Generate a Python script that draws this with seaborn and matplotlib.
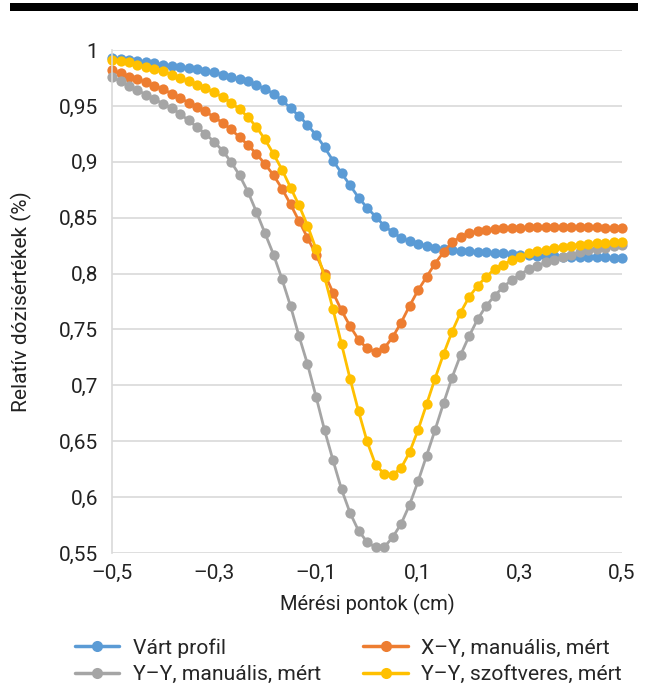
import matplotlib
matplotlib.use("Agg")
import matplotlib.pyplot as plt
import numpy as np
import pandas as pd
import seaborn as sns
from matplotlib.patches import Rectangle
from matplotlib.ticker import FixedLocator, FuncFormatter

# measurement positions (cm), 61 points across the field
positions = np.round(np.linspace(-0.5, 0.5, 61), 4)

series_names = [
    "Várt profil",
    "X–Y, manuális, mért",
    "Y–Y, manuális, mért",
    "Y–Y, szoftveres, mért",
]
series_colors = ["#5B9BD5", "#ED7D31", "#A5A5A5", "#FFC000"]

expected = [
    0.993, 0.992, 0.991, 0.990, 0.989, 0.988, 0.987, 0.986, 0.985, 0.984,
    0.983, 0.981, 0.980, 0.978, 0.976, 0.974, 0.972, 0.969, 0.965, 0.961,
    0.955, 0.948, 0.941, 0.933, 0.924, 0.913, 0.901, 0.890, 0.879, 0.868,
    0.859, 0.851, 0.843, 0.837, 0.832, 0.829, 0.8265, 0.825, 0.823, 0.822,
    0.8212, 0.8205, 0.820, 0.8195, 0.819, 0.8185, 0.818, 0.8175, 0.817, 0.8165,
    0.816, 0.8158, 0.8155, 0.8152, 0.815, 0.8148, 0.8146, 0.8145, 0.8144, 0.8143,
    0.8142,
]
xy_manual = [
    0.982, 0.979, 0.976, 0.974, 0.971, 0.968, 0.965, 0.961, 0.957, 0.953,
    0.949, 0.945, 0.940, 0.935, 0.929, 0.922, 0.915, 0.907, 0.898, 0.888,
    0.876, 0.862, 0.847, 0.832, 0.817, 0.800, 0.783, 0.767, 0.753, 0.741,
    0.733, 0.730, 0.733, 0.743, 0.756, 0.771, 0.785, 0.797, 0.809, 0.819,
    0.828, 0.833, 0.836, 0.838, 0.839, 0.840, 0.8405, 0.841, 0.841, 0.8415,
    0.842, 0.842, 0.842, 0.842, 0.842, 0.842, 0.842, 0.8415, 0.841, 0.841,
    0.8405,
]
yy_manual = [
    0.976, 0.972, 0.968, 0.964, 0.960, 0.956, 0.952, 0.948, 0.943, 0.937,
    0.931, 0.925, 0.918, 0.910, 0.900, 0.888, 0.873, 0.855, 0.836, 0.817,
    0.795, 0.771, 0.744, 0.719, 0.690, 0.660, 0.633, 0.607, 0.586, 0.570,
    0.560, 0.555, 0.555, 0.564, 0.576, 0.593, 0.614, 0.637, 0.660, 0.684,
    0.707, 0.727, 0.744, 0.759, 0.771, 0.780, 0.788, 0.794, 0.799, 0.804,
    0.807, 0.810, 0.8125, 0.815, 0.8165, 0.819, 0.821, 0.822, 0.823, 0.825,
    0.826,
]
yy_software = [
    0.991, 0.990, 0.989, 0.987, 0.985, 0.983, 0.981, 0.978, 0.975, 0.972,
    0.969, 0.966, 0.962, 0.958, 0.953, 0.947, 0.940, 0.931, 0.920, 0.907,
    0.893, 0.877, 0.861, 0.843, 0.822, 0.797, 0.768, 0.737, 0.706, 0.677,
    0.650, 0.629, 0.621, 0.620, 0.626, 0.640, 0.660, 0.683, 0.706, 0.728,
    0.748, 0.765, 0.779, 0.789, 0.797, 0.804, 0.808, 0.812, 0.815, 0.818,
    0.820, 0.8215, 0.823, 0.824, 0.825, 0.826, 0.8265, 0.827, 0.8275, 0.828,
    0.8285,
]

x_ticks = [-0.5, -0.3, -0.1, 0.1, 0.3, 0.5]
y_ticks = [0.55, 0.6, 0.65, 0.7, 0.75, 0.8, 0.85, 0.9, 0.95, 1.0]


def comma_fmt(v, _pos=None):
    s = f"{v:g}".replace(".", ",")
    return s.replace("-", "\u2013")


def main() -> None:
    sns.set_theme(style="white")
    plt.rcParams["font.family"] = ["Roboto", "DejaVu Sans"]

    df = pd.DataFrame({
        "x": np.tile(positions, 4),
        "value": expected + xy_manual + yy_manual + yy_software,
        "series": np.repeat(series_names, len(positions)),
    })

    fig = plt.figure(figsize=(6.5, 6.87), dpi=100)
    ax = fig.add_axes([0.1723, 0.195, 0.7847, 0.7322])

    sns.lineplot(
        data=df, x="x", y="value", hue="series", hue_order=series_names,
        palette=series_colors, marker="o", markersize=7.4, markeredgewidth=0,
        linewidth=2, sort=False, ax=ax,
    )
    for line in ax.lines:
        line.set_clip_on(False)

    handles, labels = ax.get_legend_handles_labels()
    ax.legend_.remove()

    ax.set_xlim(-0.5, 0.5)
    ax.set_ylim(0.55, 1.0)
    ax.xaxis.set_major_locator(FixedLocator(x_ticks))
    ax.yaxis.set_major_locator(FixedLocator(y_ticks))
    ax.xaxis.set_major_formatter(FuncFormatter(comma_fmt))
    ax.yaxis.set_major_formatter(FuncFormatter(comma_fmt))
    ax.tick_params(axis="both", length=0, labelsize=15, colors="#222222")
    ax.tick_params(axis="y", pad=10)
    ax.tick_params(axis="x", pad=8)

    ax.grid(axis="y", color="#D9D9D9", linewidth=1.2)
    ax.set_axisbelow(True)
    for side in ("top", "right", "bottom"):
        ax.spines[side].set_visible(False)
    ax.spines["left"].set_color("#D9D9D9")
    ax.spines["left"].set_linewidth(1.2)

    ax.set_xlabel("Mérési pontok (cm)", fontsize=14.5, color="#222222", labelpad=8)
    ax.set_ylabel("Relatív dózisértékek (%)", fontsize=15, color="#222222", labelpad=19)

    order = [0, 2, 1, 3]
    leg = fig.legend(
        [handles[i] for i in order], [labels[i] for i in order],
        loc="lower left", bbox_to_anchor=(75 / 650, 3 / 687), ncol=2, frameon=False,
        fontsize=15.2, handlelength=2.1, columnspacing=2.0, labelspacing=0.35,
        handletextpad=0.65, borderpad=0, borderaxespad=0,
    )
    for h in leg.legend_handles:
        h.set_linewidth(2.5)
        h.set_markersize(8)

    fig.add_artist(Rectangle((0.015, 0.984), 0.966, 0.0115, transform=fig.transFigure,
                             color="black", linewidth=0))

    fig.savefig("out.png", dpi=100, facecolor="white")
    plt.close(fig)


if __name__ == "__main__":
    main()
